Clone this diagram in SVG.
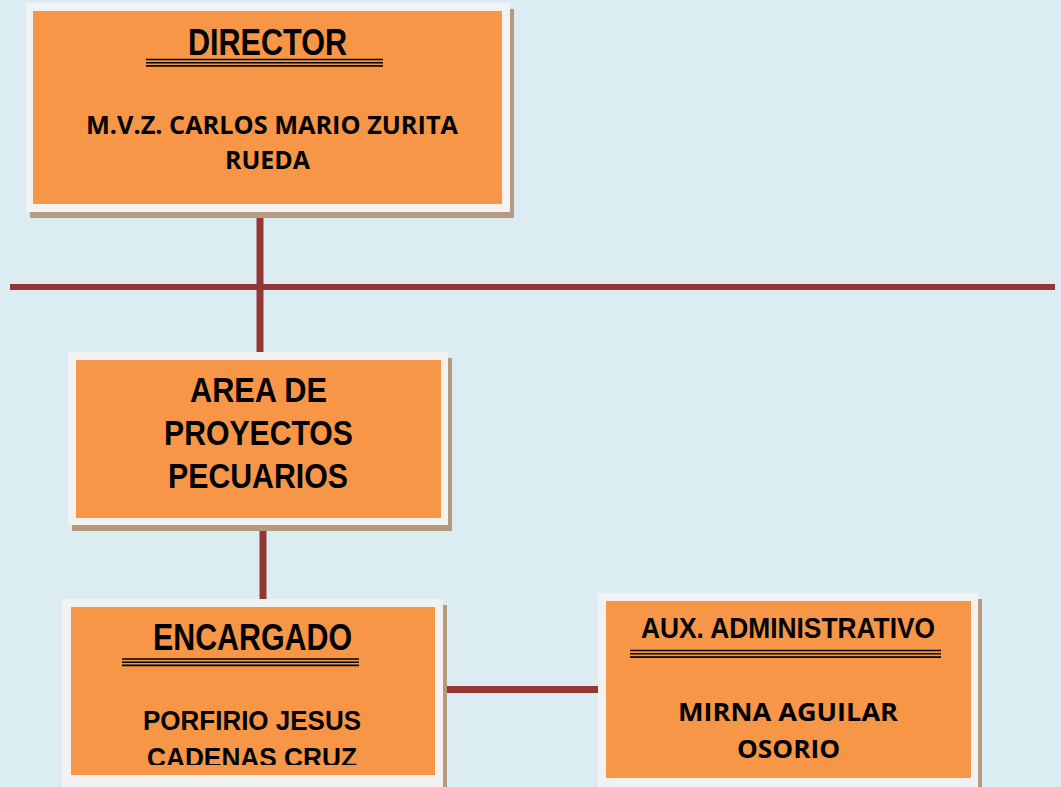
<svg xmlns="http://www.w3.org/2000/svg" width="1061" height="787" viewBox="0 0 1061 787">
<style>
.shadow{fill:#b79a7b}
.frame{fill:#f2f2f2}
.fill{fill:#f79646}
.title{font-family:"Liberation Sans",Arial,sans-serif;font-weight:bold;fill:#000}
.name{font-family:"Open Sans","Liberation Sans",sans-serif;font-weight:bold;fill:#000}
.ul{stroke:#000;stroke-width:1.6}
.conn{stroke:#943634;fill:none}
</style>
<defs>
<clipPath id="encClip"><rect x="60" y="590" width="400" height="175"/></clipPath>
</defs>
<rect x="0" y="0" width="1061" height="787" fill="#dbedf3"/>
<g id="connectors">
<line class="conn" x1="260" y1="208" x2="260" y2="290" stroke-width="7"/>
<line class="conn" x1="10" y1="287" x2="1055" y2="287" stroke-width="6"/>
<line class="conn" x1="260" y1="287" x2="260" y2="356" stroke-width="7"/>
<line class="conn" x1="263" y1="524" x2="263" y2="601" stroke-width="7"/>
<line class="conn" x1="442" y1="689.5" x2="599" y2="689.5" stroke-width="7"/>
</g>
<g id="director">
<rect class="shadow" x="30" y="9" width="484" height="209"/>
<rect class="frame" x="26" y="3" width="484" height="209"/>
<rect class="fill" x="33" y="11" width="469" height="193"/>
<text class="title" x="188" y="54.5" font-size="37" textLength="159" lengthAdjust="spacingAndGlyphs">DIRECTOR</text>
<line class="ul" x1="146" y1="59.5" x2="383" y2="59.5"/>
<line class="ul" x1="146" y1="62.7" x2="383" y2="62.7"/>
<line class="ul" x1="146" y1="65.9" x2="383" y2="65.9"/>
<text class="name" x="86" y="133.5" font-size="25" textLength="372" lengthAdjust="spacingAndGlyphs">M.V.Z. CARLOS MARIO ZURITA</text>
<text class="name" x="225" y="168.5" font-size="25" textLength="85" lengthAdjust="spacingAndGlyphs">RUEDA</text>
</g>
<g id="area">
<rect class="shadow" x="72" y="358" width="380" height="173"/>
<rect class="frame" x="68" y="352" width="380" height="173"/>
<rect class="fill" x="76" y="360" width="365" height="158"/>
<text class="title" x="190" y="402" font-size="35" textLength="137" lengthAdjust="spacingAndGlyphs">AREA DE</text>
<text class="title" x="164" y="445" font-size="35" textLength="189" lengthAdjust="spacingAndGlyphs">PROYECTOS</text>
<text class="title" x="168" y="488" font-size="35" textLength="180" lengthAdjust="spacingAndGlyphs">PECUARIOS</text>
</g>
<g id="encargado">
<rect class="shadow" x="66" y="605" width="381" height="190"/>
<rect class="frame" x="62" y="599" width="381" height="190"/>
<rect class="fill" x="71" y="607" width="364" height="168"/>
<text class="title" x="153" y="650" font-size="37" textLength="199" lengthAdjust="spacingAndGlyphs">ENCARGADO</text>
<line class="ul" x1="122" y1="659" x2="359" y2="659"/>
<line class="ul" x1="122" y1="662.2" x2="359" y2="662.2"/>
<line class="ul" x1="122" y1="665.4" x2="359" y2="665.4"/>
<text class="title" x="143" y="729.5" font-size="27.5" textLength="218" lengthAdjust="spacingAndGlyphs">PORFIRIO JESUS</text>
<text class="title" x="147" y="767" font-size="27.5" textLength="210" lengthAdjust="spacingAndGlyphs" clip-path="url(#encClip)">CADENAS CRUZ</text>
</g>
<g id="aux">
<rect class="shadow" x="602" y="599" width="380" height="200"/>
<rect class="frame" x="598" y="593" width="380" height="200"/>
<rect class="fill" x="606" y="601" width="365" height="177"/>
<text class="title" x="641" y="638" font-size="29" textLength="294" lengthAdjust="spacingAndGlyphs">AUX. ADMINISTRATIVO</text>
<line class="ul" x1="630" y1="650.5" x2="941" y2="650.5"/>
<line class="ul" x1="630" y1="653.8" x2="941" y2="653.8"/>
<line class="ul" x1="630" y1="657.1" x2="941" y2="657.1"/>
<text class="name" x="678" y="721" font-size="25" textLength="220" lengthAdjust="spacingAndGlyphs">MIRNA AGUILAR</text>
<text class="name" x="737" y="758" font-size="25" textLength="103" lengthAdjust="spacingAndGlyphs">OSORIO</text>
</g>
</svg>
